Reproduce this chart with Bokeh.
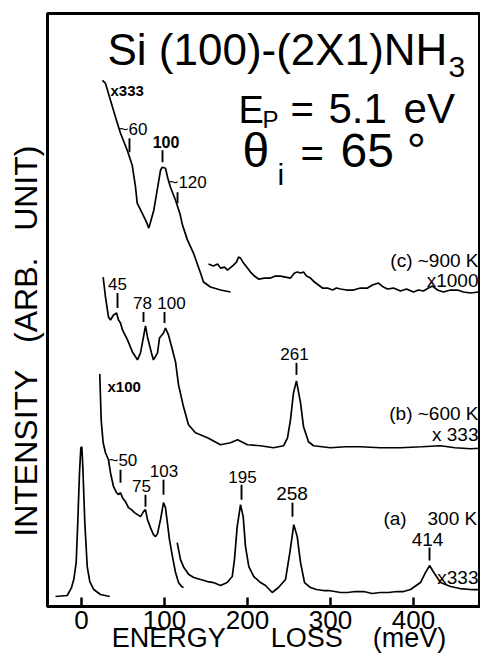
from bokeh.plotting import figure
from bokeh.models import Range1d, FixedTicker, ColumnDataSource
from bokeh.core.properties import value
from bokeh.embed import file_html
from bokeh.resources import INLINE

FONT = "Liberation Sans"
NB = "\u00a0"
MID = 0.3465  # distance (in em) from the alphabetic baseline to the middle of the font box

# ---------------- data (energy loss in meV, intensity in arbitrary units) ----------------
# (a) 300 K : elastic peak
a_el_e = [-31.3, -17.2, -12.0, -9.3, -6.4, -4.5, -2.4, -0.8, 0.4, 1.6, 4.0, 6.9, 10.0, 14.8, 22.9, 34.1]
a_el_i = [15, 16, 24, 32, 49, 89, 139, 164, 165, 145, 89, 45, 30, 22, 17, 15]
# (a) x100 segment
a_lo_e = [22.0, 23.7, 26.1, 28.9, 32.5, 34.9, 38.6, 42.2, 44.6, 47.0, 49.4, 53.0, 56.6, 60.2,
          63.9, 67.5, 71.1, 74.7, 77.1, 79.5, 83.1, 86.7, 89.2, 91.6, 95.2, 98.8, 101.2, 103.6,
          106.0, 109.6, 113.3, 116.9, 120.5, 122.9]
a_lo_i = [238, 192, 169, 159, 152, 139, 125, 119, 117, 119, 114, 110, 104, 102,
          99, 97, 95, 100, 102, 92, 84, 77, 75, 78, 92, 109, 104, 88,
          72, 55, 39, 29, 25, 24]
# (a) x333 segment
a_hi_e = [115.3, 119.3, 123.3, 129.3, 135.3, 143.4, 151.8, 159.0, 167.5, 175.5, 181.6, 184.3,
          187.6, 191.6, 194.8, 197.6, 201.6, 207.6, 215.7, 221.7, 229.8, 237.3, 245.8, 251.0,
          255.8, 259.9, 263.9, 268.7, 275.9, 283.0, 291.6, 298.0, 305.0, 312.0, 320.5, 330.0,
          340.0, 350.0, 360.2, 370.0, 380.0, 388.0, 396.4, 408.4, 414.4, 419.3, 424.5, 432.5,
          444.6, 456.0, 468.7, 480.0, 492.8]
a_hi_i = [69, 52, 44, 37, 34, 32, 30, 29, 26, 29, 35, 52,
          85, 107, 95, 65, 45, 35, 29, 26, 19, 24, 32, 59,
          87, 75, 49, 29, 24, 22, 21, 21, 20, 19, 19, 20,
          20, 18, 19, 19, 20, 20, 22, 29, 39, 46, 39, 29,
          25, 23, 22, 22, 21]

# (b) ~600 K
b_e = [26.1, 28.9, 32.5, 34.9, 38.6, 42.2, 44.6, 47.0, 49.4, 55.4, 61.4, 67.5, 71.1, 74.7,
       77.1, 79.5, 84.3, 86.7, 91.6, 94.0, 98.8, 101.2, 104.8, 109.6, 113.3, 116.9, 122.9,
       128.9, 137.3, 151.8, 167.5, 179.5, 188.0, 200.0, 215.7, 231.3, 243.4, 248.2, 251.8,
       255.4, 259.0, 263.9, 267.5, 273.5, 279.5, 300.0, 318.0, 336.1, 360.0, 384.3, 410.0,
       432.5, 450.0, 468.7, 490.4]
b_i = [335, 315, 295, 292, 297, 299, 292, 289, 282, 272, 260, 252, 259, 275,
       286, 275, 259, 252, 259, 274, 279, 284, 277, 262, 250, 227, 205,
       187, 179, 174, 167, 169, 172, 167, 166, 164, 166, 174, 192,
       219, 231, 209, 185, 170, 166, 164, 165, 165, 164, 164, 165,
       166, 164, 163, 164]

# (c) ~900 K : x333 segment
c_lo_e = [25.3, 28.9, 34.9, 41.0, 47.0, 55.1, 61.1, 65.1, 67.1, 73.1, 78.3, 81.1, 83.1, 87.1,
          91.2, 95.2, 97.2, 101.2, 104.0, 107.2, 113.3, 118.4, 121.7, 127.7, 134.9, 143.4,
          147.0, 155.4, 167.5, 179.5]
c_lo_i = [532, 529, 512, 495, 479, 462, 447, 425, 409, 399, 390, 384, 390, 402,
          422, 442, 445, 444, 434, 425, 412, 399, 387, 372, 359, 339,
          330, 325, 322, 320]
# (c) x1000 segment
c_hi_e = [153.0, 159.0, 163.9, 167.5, 172.3, 175.9, 183.1, 186.7, 189.2, 191.6, 195.2, 200.0,
          203.6, 208.4, 213.3, 220.5, 227.7, 233.7, 239.8, 245.8, 251.8, 256.6, 260.2, 263.9,
          267.5, 271.1, 275.9, 280.7, 285.5, 290.3, 296.4, 302.4, 307.2, 312.0, 319.3, 327.7,
          336.1, 344.6, 350.6, 357.8, 363.8, 368.7, 375.9, 384.3, 391.6, 400.0, 406.0, 412.0,
          418.1, 422.9, 428.9, 436.1, 444.6, 453.0, 460.2, 468.7, 478.3, 490.4]
c_hi_i = [348, 346, 348, 344, 345, 342, 347, 350, 355, 354, 349, 344,
          340, 336, 333, 334, 334, 336, 336, 335, 334, 339, 340, 339,
          340, 336, 334, 330, 327, 324, 324, 322, 324, 323, 322, 322,
          324, 324, 327, 329, 325, 323, 324, 321, 323, 320, 322, 321,
          324, 326, 322, 320, 322, 322, 320, 319, 320, 320]

# peak labels: text, x, baseline y, size (px), align, style
pk_text = ["x333", "~60", "100", "~120", "45", "78", "100", "261", "x100",
           "~50", "75", "103", "195", "258", "414"]
pk_x = [34.9, 44.6, 101.8, 104.8, 43.4, 73.5, 108.4, 256.6, 31.3,
        32.5, 72.3, 99.4, 194.0, 253.6, 416.9]
pk_base = [517, 477, 465, 424, 322, 303, 303, 252, 220,
           145, 120, 135, 129, 112, 66]
pk_fs = [15, 17, 16, 17, 17, 17, 17, 17, 15,
         17, 17, 17, 17, 19, 19]
pk_align = ["left", "left", "center", "left", "center", "center", "center", "center", "left",
            "left", "center", "center", "center", "center", "center"]
pk_style = ["bold", "normal", "bold", "normal", "normal", "normal", "normal", "normal", "bold",
            "normal", "normal", "normal", "normal", "normal", "normal"]

# small vertical markers under the peak labels
mk_x = [57.8, 97.6, 115.7, 43.4, 74.7, 100.0, 259.0, 47.0, 77.1, 98.8, 192.8, 254.2, 419.3]
mk_y0 = [460, 450, 409, 304, 290, 289, 237, 129, 105, 117, 112, 95, 51]
mk_y1 = [474, 462, 420, 319, 300, 300, 249, 142, 117, 132, 127, 109, 64]

# curve captions: text, x, baseline y, align (19 px)
cap_text = ["(c) ~900 K", "x1000", "(b) ~600 K", "x 333", "(a)", "300 K", "x333"]
cap_x = [478.3, 478.3, 478.3, 478.3, 377.7, 416.9, 478.3]
cap_base = [345, 325, 192, 171, 87, 87, 27]
cap_align = ["right", "right", "right", "right", "center", "left", "right"]
CAP_FS = 19

# heading block: text, x, baseline y, size (px)
head = [
    ("Si (100)-(2X1)NH", 31.3, 548, 44),
    ("3", 442.2, 535, 30),
    ("E", 189.2, 489, 38),
    ("P", 218.1, 485, 24),
    ("=", 251.8, 489, 40),
    ("5.1", 297.6, 489, 42),
    ("eV", 388.0, 489, 42),
    ("\u03b8", 194.0, 445, 48),
    ("i", 236.1, 427, 30),
    ("=", 263.9, 445, 40),
    ("65", 312.1, 445, 48),
    ("\u00b0", 392.0, 445, 48),
]

x_ticks = [0, 100, 200, 300, 400]
x_title = NB * 4 + "ENERGY" + NB * 6 + "LOSS" + NB * 4 + "(meV)"
y_title = "INTENSITY" + NB * 3 + "(ARB." + NB * 3 + "UNIT)" + NB * 7

# ---------------- figure ----------------
p = figure(width=480, height=655, x_range=Range1d(-40.96, 480.72), y_range=Range1d(5, 599),
           output_backend="svg", toolbar_location=None,
           min_border_left=47, min_border_right=0, min_border_top=13, min_border_bottom=48)
p.background_fill_color = "white"
p.border_fill_color = "white"
p.outline_line_color = "black"
p.outline_line_width = 3
p.outline_line_alpha = 1.0
p.xgrid.visible = False
p.ygrid.visible = False

ax = p.xaxis[0]
ax.ticker = FixedTicker(ticks=x_ticks)
ax.minor_tick_line_color = None
ax.major_tick_in = 9
ax.major_tick_out = 0
ax.major_tick_line_width = 2.5
ax.axis_line_width = 3
ax.major_label_text_font = FONT
ax.major_label_text_font_size = "26px"
ax.major_label_text_color = "black"
ax.major_label_standoff = 4
ax.axis_label = x_title
ax.axis_label_text_font = FONT
ax.axis_label_text_font_size = "27px"
ax.axis_label_text_font_style = "normal"
ax.axis_label_text_color = "black"
ax.axis_label_standoff = -9

ay = p.yaxis[0]
ay.ticker = FixedTicker(ticks=[])
ay.major_tick_line_color = None
ay.minor_tick_line_color = None
ay.axis_line_color = None
ay.major_label_standoff = 0
ay.major_tick_out = 0
ay.major_tick_in = 0
ay.axis_label = y_title
ay.axis_label_text_font = FONT
ay.axis_label_text_font_size = "32px"
ay.axis_label_text_font_style = "normal"
ay.axis_label_text_color = "black"
ay.axis_label_standoff = 4

LW = 1.7
for xs, ys in [(a_el_e, a_el_i), (a_lo_e, a_lo_i), (a_hi_e, a_hi_i), (b_e, b_i),
               (c_lo_e, c_lo_i), (c_hi_e, c_hi_i)]:
    p.line(xs, ys, line_color="black", line_width=LW)

p.segment(x0=mk_x, y0=mk_y0, x1=mk_x, y1=mk_y1, line_color="black", line_width=1.9)

pk_src = ColumnDataSource(dict(
    x=pk_x, y=[b + MID * f for b, f in zip(pk_base, pk_fs)], text=pk_text,
    size=["%dpx" % f for f in pk_fs], align=pk_align, style=pk_style))
p.text(x="x", y="y", text="text", source=pk_src, text_font=value(FONT), text_font_size="size",
       text_align="align", text_font_style="style", text_baseline="middle", text_color="black")

cap_src = ColumnDataSource(dict(x=cap_x, y=[b + MID * CAP_FS for b in cap_base],
                                text=cap_text, align=cap_align))
p.text(x="x", y="y", text="text", source=cap_src, text_font=value(FONT),
       text_font_size=value("%dpx" % CAP_FS),
       text_align="align", text_baseline="middle", text_color="black")

for t, x, y, s in head:
    p.text(x=[x], y=[y + MID * s], text=[t], text_font=value(FONT), text_font_size=value("%dpx" % s),
           text_align="left", text_baseline="middle", text_color="black")

open("out.html", "w").write(file_html(p, INLINE))
